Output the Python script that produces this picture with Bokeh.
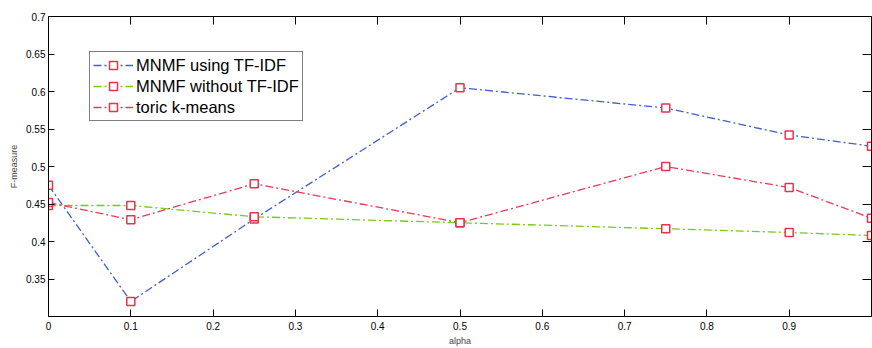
from bokeh.plotting import figure
from bokeh.models import Range1d, LinearAxis, FixedTicker, Legend
from bokeh.embed import file_html
from bokeh.resources import INLINE

alpha = [0, 0.1, 0.25, 0.5, 0.75, 0.9, 1.0]
mnmf_tfidf = [0.475, 0.32, 0.43, 0.605, 0.578, 0.542, 0.527]
mnmf_no_tfidf = [0.448, 0.448, 0.433, 0.425, 0.417, 0.412, 0.408]
toric = [0.452, 0.429, 0.477, 0.425, 0.500, 0.472, 0.431]

x_ticks = [0, 0.1, 0.2, 0.3, 0.4, 0.5, 0.6, 0.7, 0.8, 0.9]
y_ticks = [0.35, 0.4, 0.45, 0.5, 0.55, 0.6, 0.65, 0.7]
y_tick_labels = ["0.35", "0.4", "0.45", "0.5", "0.55", "0.6", "0.65", "0.7"]
x_tick_labels = ["0", "0.1", "0.2", "0.3", "0.4", "0.5", "0.6", "0.7", "0.8", "0.9"]

FONT = "Liberation Sans"

p = figure(width=872, height=348, x_range=Range1d(0, 1), y_range=Range1d(0.3, 0.7),
           output_backend="svg", toolbar_location=None,
           min_border_left=48, min_border_right=1, min_border_top=16, min_border_bottom=32)

p.xgrid.visible = False
p.ygrid.visible = False
p.outline_line_color = "black"
p.outline_line_width = 1
p.background_fill_color = "white"
p.border_fill_color = "white"

def style_axis(ax, tick_len):
    ax.major_tick_in = tick_len
    ax.major_tick_out = 0
    ax.minor_tick_in = 0
    ax.minor_tick_out = 0
    ax.axis_line_color = "black"
    ax.major_tick_line_color = "black"
    ax.major_label_text_font = FONT
    ax.major_label_text_font_size = "10px"
    ax.major_label_text_color = "black"
    ax.axis_label_text_font = FONT
    ax.axis_label_text_font_size = "9px"
    ax.axis_label_text_font_style = "normal"

xa = p.xaxis[0]
xa.ticker = FixedTicker(ticks=x_ticks)
xa.major_label_overrides = {t: l for t, l in zip(x_ticks, x_tick_labels)}
style_axis(xa, 7)
xa.axis_label = "alpha"
xa.major_label_standoff = 5
xa.axis_label_standoff = 3

ya = p.yaxis[0]
ya.ticker = FixedTicker(ticks=y_ticks)
ya.major_label_overrides = {t: l for t, l in zip(y_ticks, y_tick_labels)}
style_axis(ya, 6)
ya.axis_label = "F-measure"
ya.major_label_standoff = 3
ya.axis_label_standoff = 4

top = LinearAxis(ticker=FixedTicker(ticks=x_ticks))
style_axis(top, 8)
top.major_label_text_font_size = "1px"
top.major_label_text_alpha = 0
top.major_label_standoff = 0
p.add_layout(top, "above")

right = LinearAxis(ticker=FixedTicker(ticks=y_ticks))
style_axis(right, 9)
right.major_label_text_font_size = "1px"
right.major_label_text_alpha = 0
right.major_label_standoff = 0
p.add_layout(right, "right")

DASH = "8 3 2 3"
MARK = "#e8324e"
series = [
    ("MNMF using TF-IDF", mnmf_tfidf, "#3f5fcc"),
    ("MNMF without TF-IDF", mnmf_no_tfidf, "#77cc11"),
    ("toric k-means", toric, "#e83a55"),
]
items = []
for name, ys, col in series:
    ln = p.line(alpha, ys, line_color=col, line_width=1.3, line_dash=DASH)
    mk = p.scatter(alpha, ys, marker="square", size=8, line_color=MARK, line_width=1.5,
                   fill_color="white")
    items.append((name, [ln, mk]))

legend = Legend(items=items, location=(41, 195))
legend.label_text_font = FONT
legend.label_text_font_size = "16.5px"
legend.label_text_color = "black"
legend.label_height = 20
legend.glyph_height = 20
legend.glyph_width = 40
legend.label_standoff = 3
legend.spacing = 1
legend.padding = 3
legend.margin = 0
legend.border_line_color = "black"
legend.border_line_width = 1
legend.background_fill_color = "white"
legend.background_fill_alpha = 1
p.add_layout(legend, "center")

open("out.html", "w").write(file_html(p, INLINE))
